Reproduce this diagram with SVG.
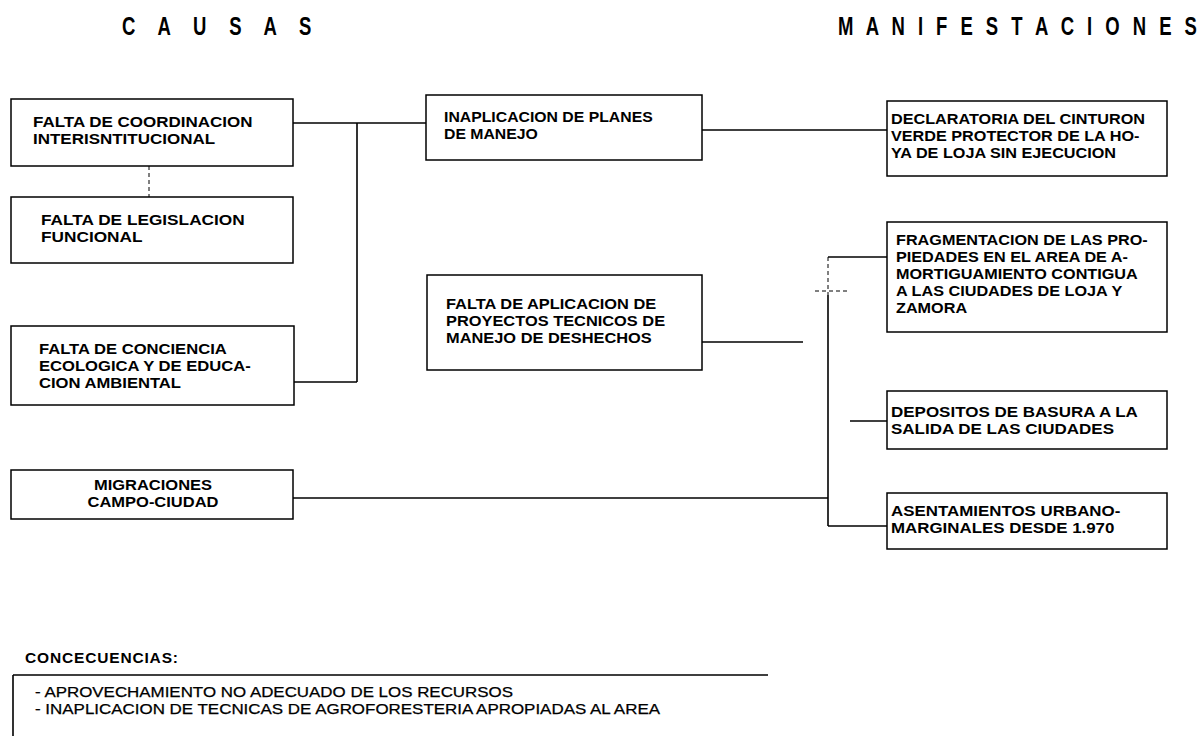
<svg xmlns="http://www.w3.org/2000/svg" width="1204" height="736" viewBox="0 0 1204 736">
<style>
  .box { fill: #fff; stroke: #000; stroke-width: 1.5; }
  .t { font-family: "Liberation Sans", Arial, sans-serif; font-size: 15px; font-weight: bold; fill: #000; }
  .h { font-family: "Liberation Sans", Arial, sans-serif; font-size: 25px; font-weight: bold; fill: #000; }
  .b { font-family: "Liberation Sans", Arial, sans-serif; font-size: 14.5px; fill: #000; stroke: #000; stroke-width: 0.25; }
  .c { fill: none; stroke: #000; stroke-width: 1.6; }
  .d { fill: none; stroke: #000; stroke-width: 1; stroke-dasharray: 4 3; }
</style>
<rect width="1204" height="736" fill="#fff"/>
<text class="h" transform="translate(122,35) scale(0.74,1)" textLength="256" lengthAdjust="spacing">C A U S A S</text>
<text class="h" transform="translate(838,35) scale(0.74,1)" textLength="485" lengthAdjust="spacing">M A N I F E S T A C I O N E S</text>

<g id="connectors">
  <path class="c" d="M293,123 H426"/>
  <path class="c" d="M357,123 V382"/>
  <path class="c" d="M294,382 H357"/>
  <path class="d" d="M149,166 V197"/>
  <path class="c" d="M702,130 H887"/>
  <path class="c" d="M702,342 H803"/>
  <path class="d" d="M828,257 V295"/>
  <path class="c" d="M828,295 V526"/>
  <path class="c" d="M828,257 H887"/>
  <path class="d" d="M815,291 H850"/>
  <path class="c" d="M850,421 H887"/>
  <path class="c" d="M293,498 H828"/>
  <path class="c" d="M828,526 H887"/>
</g>

<g id="n-coordinacion">
  <rect class="box" x="11" y="99" width="282" height="67"/>
  <text class="t" transform="translate(33,127) scale(1.133,1)">FALTA DE COORDINACION<tspan x="0" dy="17">INTERISNTITUCIONAL</tspan></text>
</g>
<g id="n-legislacion">
  <rect class="box" x="11" y="197" width="282" height="66"/>
  <text class="t" transform="translate(41,225) scale(1.15,1)">FALTA DE LEGISLACION<tspan x="0" dy="17">FUNCIONAL</tspan></text>
</g>
<g id="n-conciencia">
  <rect class="box" x="11" y="326" width="283" height="79"/>
  <text class="t" transform="translate(39,354) scale(1.107,1)">FALTA DE CONCIENCIA<tspan x="0" dy="17">ECOLOGICA Y DE EDUCA-</tspan><tspan x="0" dy="17">CION AMBIENTAL</tspan></text>
</g>
<g id="n-migraciones">
  <rect class="box" x="11" y="470" width="282" height="49"/>
  <text class="t" transform="translate(153,490) scale(1.1,1)" text-anchor="middle">MIGRACIONES<tspan x="0" dy="17">CAMPO-CIUDAD</tspan></text>
</g>
<g id="n-inaplicacion">
  <rect class="box" x="426" y="95" width="276" height="65"/>
  <text class="t" transform="translate(444,122) scale(1.053,1)">INAPLICACION DE PLANES<tspan x="0" dy="17">DE MANEJO</tspan></text>
</g>
<g id="n-deshechos">
  <rect class="box" x="427" y="275" width="275" height="95"/>
  <text class="t" transform="translate(446,309) scale(1.093,1)">FALTA DE APLICACION DE<tspan x="0" dy="17">PROYECTOS TECNICOS DE</tspan><tspan x="0" dy="17">MANEJO DE DESHECHOS</tspan></text>
</g>
<g id="n-declaratoria">
  <rect class="box" x="887" y="101" width="280" height="75"/>
  <text class="t" transform="translate(891,124) scale(1.08,1)">DECLARATORIA DEL CINTURON<tspan x="0" dy="17">VERDE PROTECTOR DE LA HO-</tspan><tspan x="0" dy="17">YA DE LOJA SIN EJECUCION</tspan></text>
</g>
<g id="n-fragmentacion">
  <rect class="box" x="887" y="222" width="280" height="110"/>
  <text class="t" transform="translate(896,245) scale(1.08,1)">FRAGMENTACION DE LAS PRO-<tspan x="0" dy="17">PIEDADES EN EL AREA DE A-</tspan><tspan x="0" dy="17">MORTIGUAMIENTO CONTIGUA</tspan><tspan x="0" dy="17">A LAS CIUDADES DE LOJA Y</tspan><tspan x="0" dy="17.5">ZAMORA</tspan></text>
</g>
<g id="n-depositos">
  <rect class="box" x="887" y="391" width="280" height="58"/>
  <text class="t" transform="translate(891,417) scale(1.133,1)">DEPOSITOS DE BASURA A LA<tspan x="0" dy="17">SALIDA DE LAS CIUDADES</tspan></text>
</g>
<g id="n-asentamientos">
  <rect class="box" x="887" y="493" width="280" height="56"/>
  <text class="t" transform="translate(891,516) scale(1.127,1)">ASENTAMIENTOS URBANO-<tspan x="0" dy="17">MARGINALES DESDE 1.970</tspan></text>
</g>

<g id="n-consecuencias">
  <text x="25" y="663" font-family="Liberation Sans, Arial, sans-serif" font-size="15.5" font-weight="bold" textLength="153" lengthAdjust="spacing">CONCECUENCIAS:</text>
  <path class="c" d="M13,675 H768 M13,675 V736"/>
  <text class="b" x="35" y="697" textLength="478" lengthAdjust="spacingAndGlyphs">- APROVECHAMIENTO NO ADECUADO DE LOS RECURSOS</text>
  <text class="b" x="35" y="713.5" textLength="625" lengthAdjust="spacingAndGlyphs">- INAPLICACION DE TECNICAS DE AGROFORESTERIA APROPIADAS AL AREA</text>
</g>
</svg>
